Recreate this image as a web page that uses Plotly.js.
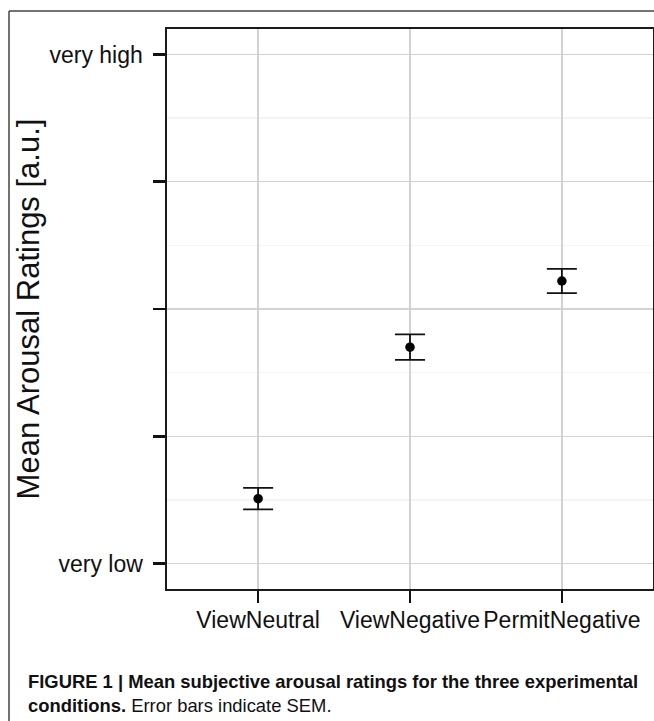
<!DOCTYPE html>
<html>
<head>
<meta charset="utf-8">
<script src="https://cdn.plot.ly/plotly-3.0.1.min.js"></script>
<style>
html,body{margin:0;padding:0;background:#fff;}
#chart{width:654px;height:721px;}
</style>
</head>
<body>
<div id="chart"></div>
<script>
// Data
var conditions = ["ViewNeutral", "ViewNegative", "PermitNegative"];
var meanRatings = [1.51, 2.70, 3.22];
var semValues = [0.084, 0.10, 0.095];
var yTickValues = [1, 2, 3, 4, 5];
var yTickLabels = ["very low", "", "", "", "very high"];
var yMinorValues = [1.5, 2.5, 3.5, 4.5];

var W = 654, H = 721;
var L = 167, R = 1, T = 29, B = 132;
var pw = W - L - R, ph = H - T - B;
function px(x){ return (x - L) / pw; }
function py(y){ return (H - B - y) / ph; }

var font = "Liberation Sans, Arial, Helvetica, sans-serif";

var trace = {
  type: "scatter",
  mode: "markers",
  x: conditions,
  y: meanRatings,
  marker: {color: "#000", size: 9.5},
  error_y: {type: "data", array: semValues, visible: true, color: "#111", thickness: 1.8, width: 15},
  showlegend: false,
  hoverinfo: "x+y"
};

var layout = {
  width: W, height: H,
  margin: {l: L, r: R, t: T, b: B, pad: 0},
  paper_bgcolor: "#fff",
  plot_bgcolor: "#fff",
  font: {family: font, color: "#000"},
  showlegend: false,
  xaxis: {
    type: "category",
    range: [-0.6, 2.6],
    showline: true, mirror: true, linecolor: "#1a1a1a", linewidth: 1.6,
    showgrid: true, gridcolor: "#d2d2d2", gridwidth: 1.3,
    ticks: "outside", ticklen: 12, tickwidth: 2.5, tickcolor: "#111",
    tickfont: {size: 23, family: font, color: "#111"},
    ticklabelstandoff: -2,
    zeroline: false, fixedrange: true
  },
  yaxis: {
    range: [0.8, 5.2],
    tickmode: "array", tickvals: yTickValues, ticktext: yTickLabels,
    showline: true, mirror: true, linecolor: "#1a1a1a", linewidth: 1.6,
    showgrid: true, gridcolor: "#d2d2d2", gridwidth: 1.3,
    minor: {tickmode: "array", tickvals: yMinorValues, showgrid: true, gridcolor: "#f4f4f4", gridwidth: 1.3, ticks: ""},
    ticks: "outside", ticklen: 12, tickwidth: 2.5, tickcolor: "#111",
    tickfont: {size: 23, family: font, color: "#111"},
    ticklabelstandoff: 6,
    zeroline: false, fixedrange: true,
    title: {text: "Mean Arousal Ratings [a.u.]", font: {size: 31, family: font, color: "#111"}, standoff: 0}
  },
  shapes: [
    {type: "line", xref: "paper", yref: "paper", x0: px(9), x1: px(9), y0: py(11), y1: py(722), line: {color: "#444", width: 1.5}},
    {type: "line", xref: "paper", yref: "paper", x0: px(9), x1: px(655), y0: py(11), y1: py(11), line: {color: "#444", width: 1.5}}
  ],
  annotations: [
    {
      xref: "paper", yref: "paper", x: px(26), y: py(669), xanchor: "left", yanchor: "top",
      align: "left", showarrow: false,
      font: {family: "Liberation Sans Narrow, Arial Narrow, Liberation Sans, sans-serif", size: 18.4, color: "#111"},
      text: "<b>FIGURE 1 | Mean subjective arousal ratings for the three experimental</b><br><b>conditions.</b> Error bars indicate SEM."
    }
  ]
};

Plotly.newPlot("chart", [trace], layout, {displayModeBar: false, staticPlot: true});
</script>
</body>
</html>
